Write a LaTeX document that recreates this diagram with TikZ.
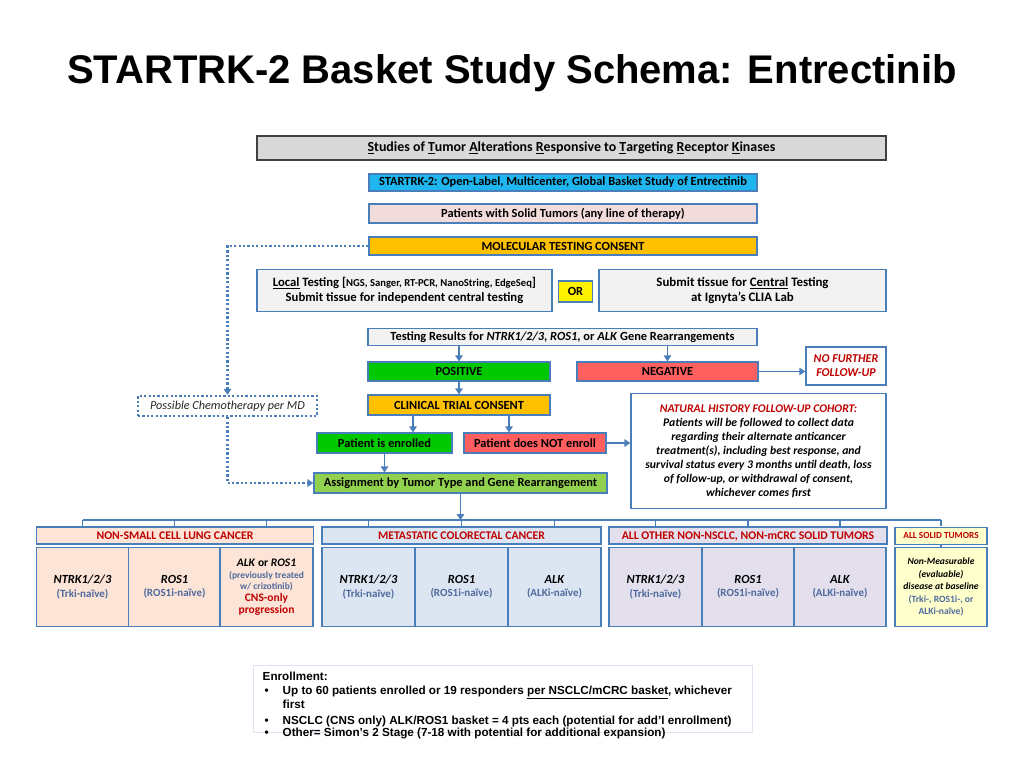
\documentclass[tikz,border=0pt]{standalone}
\usepackage{fontspec}
\setmainfont{Carlito}
\newfontfamily\arialfont{Liberation Sans}
\usetikzlibrary{arrows.meta}
\definecolor{bblue}{HTML}{4A7EBB}
\definecolor{darkred}{HTML}{C00000}
\definecolor{slate}{HTML}{4F6A9E}
\definecolor{grayfill}{HTML}{D9D9D9}
\definecolor{lightfill}{HTML}{F2F2F2}
\definecolor{cyanfill}{HTML}{1FB5EE}
\definecolor{pinkfill}{HTML}{F2DCDB}
\definecolor{orangefill}{HTML}{FFC000}
\definecolor{greenfill}{HTML}{00C800}
\definecolor{redfill}{HTML}{FF5F5F}
\definecolor{assignfill}{HTML}{92D050}
\definecolor{nsclcfill}{HTML}{FCE4D6}
\definecolor{mcrcfill}{HTML}{DCE6F2}
\definecolor{otherfill}{HTML}{E4DFEC}
\definecolor{allfill}{HTML}{FFFFCC}
\newcommand{\notetext}[1]{{\fontsize{11}{13}\selectfont\color{slate}#1}}
\begin{document}
\begin{tikzpicture}[x=1pt,y=-1pt,
  box/.style={draw=bblue, line width=1.3pt, inner sep=0pt, align=center,
    font=\bfseries\fontsize{12.4}{14}\selectfont},
  arr/.style={bblue, line width=1.8pt, -{Triangle[width=7.5pt,length=6pt]}},
  dots/.style={draw=bblue, line width=2.2pt, dash pattern=on 2.2pt off 2.2pt},
  head/.style={box, minimum height=17, text height=8.6, text depth=1, text=darkred,
    font=\bfseries\fontsize{11.75}{13}\selectfont},
  sub/.style={box, minimum height=79, font=\bfseries\fontsize{12.4}{13.5}\selectfont},
  bus/.style={bblue, line width=1.4pt}]
\useasboundingbox[fill=white] (0,0) rectangle (1024,768);

% Title
\node (title) [anchor=base] at (512,83) {\arialfont\bfseries\fontsize{40}{48}\selectfont STARTRK-2 Basket Study Schema: Entrectinib};

% Top of the flow
\node (studies) [box, draw=black!75, line width=1.5pt, fill=grayfill, minimum width=629, minimum height=24,
  font=\bfseries\fontsize{13.9}{15}\selectfont] at (571.5,148)
  {\underline{S}tudies of \underline{T}umor \underline{A}lterations \underline{R}esponsive to \underline{T}argeting \underline{R}eceptor \underline{K}inases};
\node (startrk) [box, fill=cyanfill, minimum width=388, minimum height=17] at (563,182.5)
  {STARTRK-2: Open-Label, Multicenter, Global Basket Study of Entrectinib};
\node (patients) [box, fill=pinkfill, minimum width=388, minimum height=19] at (563,213.5)
  {Patients with Solid Tumors (any line of therapy)};
\node (molecular) [box, fill=orangefill, minimum width=388, minimum height=18] at (563,246)
  {MOLECULAR TESTING CONSENT};

% Testing routes
\node (local) [box, fill=lightfill, minimum width=295, minimum height=42,
  font=\bfseries\fontsize{12.7}{15}\selectfont] at (404.5,290.5)
  {\underline{Local} Testing [{\fontsize{10.6}{12}\selectfont NGS, Sanger, RT-PCR, NanoString, EdgeSeq}]\\
   Submit tissue for independent central testing};
\node (or) [box, fill=yellow, minimum width=34, minimum height=21] at (575.5,291.5) {OR};
\node (central) [box, fill=lightfill, minimum width=287, minimum height=42,
  font=\bfseries\fontsize{12.9}{15}\selectfont] at (742.5,290.5)
  {Submit tissue for \underline{Central} Testing\\ at Ignyta’s CLIA Lab};
\node (results) [box, fill=lightfill, minimum width=389, minimum height=17] at (562.5,337)
  {Testing Results for \textit{NTRK1/2/3}, \textit{ROS1}, or \textit{ALK} Gene Rearrangements};

% Results
\node (positive) [box, fill=greenfill, minimum width=182, minimum height=19] at (459,371.5) {POSITIVE};
\node (negative) [box, fill=redfill, minimum width=181, minimum height=19] at (667.5,371.5) {NEGATIVE};
\node (nofurther) [box, fill=white, minimum width=80, minimum height=38, text=darkred,
  font=\bfseries\itshape\fontsize{12}{14}\selectfont] at (846,366) {NO FURTHER\\ FOLLOW-UP};
\node (chemo) [box, dots, fill=white, minimum width=179, minimum height=20, text=black!85,
  font=\itshape\fontsize{12.2}{14}\selectfont] at (227.5,406) {Possible Chemotherapy per MD};
\node (clinical) [box, fill=orangefill, minimum width=182, minimum height=20] at (459,405) {CLINICAL TRIAL CONSENT};
\node (enrolled) [box, fill=greenfill, minimum width=135, minimum height=20] at (384.5,443) {Patient is enrolled};
\node (notenroll) [box, fill=redfill, minimum width=142, minimum height=20] at (535,443) {Patient does NOT enroll};
\node (natural) [box, fill=white, minimum width=255, minimum height=115,
  font=\bfseries\itshape\fontsize{11.7}{14}\selectfont] at (758.5,451)
  {{\color{darkred}NATURAL HISTORY FOLLOW-UP COHORT:}\\
   Patients will be followed to collect data\\
   regarding their alternate anticancer\\
   treatment(s), including best response, and\\
   survival status every 3 months until death, loss\\
   of follow-up, or withdrawal of consent,\\
   whichever comes first};
\node (assign) [box, fill=assignfill, minimum width=293, minimum height=20] at (460.5,483)
  {Assignment by Tumor Type and Gene Rearrangement};

% Baskets
\node (nsclc) [head, fill=nsclcfill, minimum width=277] at (175,535.5) {NON-SMALL CELL LUNG CANCER};
\node (mcrc) [head, fill=mcrcfill, minimum width=279] at (461.5,535.5) {METASTATIC COLORECTAL CANCER};
\node (other) [head, fill=otherfill, minimum width=278] at (748,535.5) {ALL OTHER NON-NSCLC, NON-mCRC SOLID TUMORS};
\node (allsolid) [head, fill=allfill, minimum width=92, text height=6.8, text depth=1,
  font=\bfseries\fontsize{9.3}{10}\selectfont] at (941,536) {ALL SOLID TUMORS};

\node (n1) [sub, fill=nsclcfill, minimum width=92] at (82.5,587) {\textit{NTRK1/2/3}\\ \notetext{(Trki-naïve)}};
\node (n2) [sub, fill=nsclcfill, minimum width=92] at (174.5,587) {\textit{ROS1}\\ \notetext{(ROS1i-naïve)}};
\node (n3) [sub, fill=nsclcfill, minimum width=93, font=\bfseries\fontsize{11.5}{11.8}\selectfont] at (266.5,587)
  {\textit{ALK} or \textit{ROS1}\\
   {\fontsize{9.5}{11}\selectfont\color{slate}(previously treated}\\
   {\fontsize{9.5}{11}\selectfont\color{slate}w/ crizotinib)}\\
   \textcolor{darkred}{CNS-only}\\ \textcolor{darkred}{progression}};
\node (m1) [sub, fill=mcrcfill, minimum width=93] at (368.5,587) {\textit{NTRK1/2/3}\\ \notetext{(Trki-naïve)}};
\node (m2) [sub, fill=mcrcfill, minimum width=93] at (461.5,587) {\textit{ROS1}\\ \notetext{(ROS1i-naïve)}};
\node (m3) [sub, fill=mcrcfill, minimum width=93] at (554.5,587) {\textit{ALK}\\ \notetext{(ALKi-naïve)}};
\node (o1) [sub, fill=otherfill, minimum width=93] at (655.5,587) {\textit{NTRK1/2/3}\\ \notetext{(Trki-naïve)}};
\node (o2) [sub, fill=otherfill, minimum width=92] at (748,587) {\textit{ROS1}\\ \notetext{(ROS1i-naïve)}};
\node (o3) [sub, fill=otherfill, minimum width=92] at (840,587) {\textit{ALK}\\ \notetext{(ALKi-naïve)}};
\node (a1) [sub, fill=allfill, minimum width=92, font=\bfseries\fontsize{9.6}{12.6}\selectfont] at (941,587)
  {\textit{Non-Measurable}\\ \textit{(evaluable)}\\ \textit{disease at baseline}\\
   \textcolor{slate}{(Trki-, ROS1i-, or}\\ \textcolor{slate}{ALKi-naïve)}};

% Connectors
\draw[arr] (positive.north |- results.south) -- (positive.north);
\draw[arr] (negative.north |- results.south) -- (negative.north);
\draw[arr] (negative.east) -- (negative.east -| nofurther.west);
\draw[arr] (positive.south) -- (clinical.north);
\draw[arr] ([xshift=-46pt]clinical.south) -- ([xshift=-46pt]clinical.south |- enrolled.north);
\draw[arr] ([xshift=50pt]clinical.south) -- ([xshift=50pt]clinical.south |- notenroll.north);
\draw[arr] (notenroll.east) -- (notenroll.east -| natural.west);
\draw[arr] (enrolled.south) -- (enrolled.south |- assign.north);
\draw[dots, -{Triangle[width=7.5pt,length=6pt]}] (molecular.west) -| (chemo.north);
\draw[dots, -{Triangle[width=7.5pt,length=6pt]}] (chemo.south) |- (assign.west);

% Basket bus
\coordinate (bus) at (460,520);
\draw[bus] (n1.north |- bus) -- (a1.north |- bus);
\foreach \s in {n1,n2,n3,m1,m2,m3,o1,o2,o3,a1}
  \draw[bus] (\s.north |- bus) -- (\s.north |- nsclc.north);
\draw[bus] (allsolid.south) -- (a1.north);
\draw[arr] (assign.south) -- (assign.south |- bus);

% Enrollment note
\node (enrollbox) [draw=bblue!20, line width=0.8pt, fill=white, minimum width=499, minimum height=67] at (503,698.5) {};
\node (enrolltext) [anchor=north west, inner sep=0pt, align=left,
  font=\arialfont\bfseries\fontsize{11.7}{13.8}\selectfont] at (262.5,671.8)
  {Enrollment:\\
   \hspace*{2pt}\makebox[18pt][l]{\textbullet}Up to 60 patients enrolled or 19 responders \underline{per NSCLC/mCRC basket}, whichever\\
   \hspace*{20pt}first\\[2.3pt]
   \hspace*{2pt}\makebox[18pt][l]{\textbullet}NSCLC (CNS only) ALK/ROS1 basket = 4 pts each (potential for add’l enrollment)\\[-1pt]
   \hspace*{2pt}\makebox[18pt][l]{\textbullet}Other= Simon’s 2 Stage (7-18 with potential for additional expansion)};
\end{tikzpicture}
\end{document}
